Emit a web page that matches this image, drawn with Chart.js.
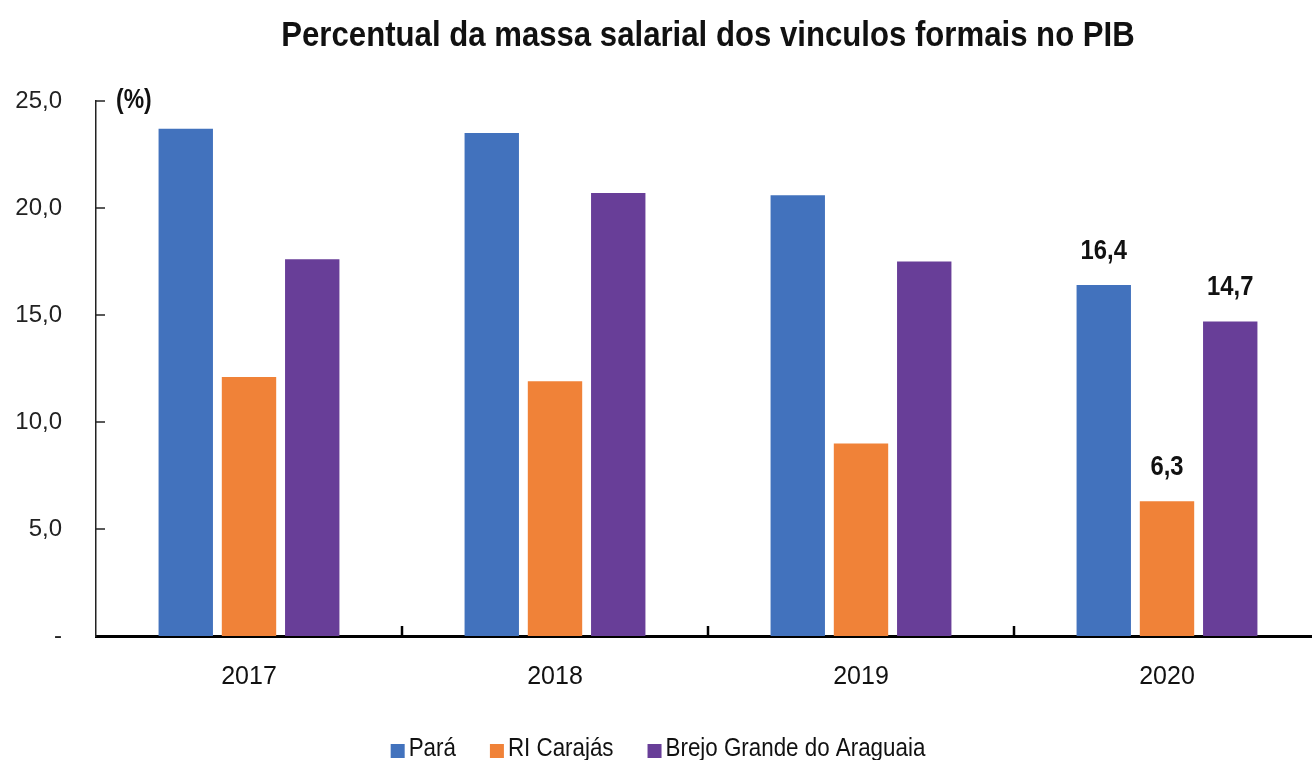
<!DOCTYPE html>
<html>
<head>
<meta charset="utf-8">
<script src="https://cdn.jsdelivr.net/npm/chart.js@4/dist/chart.umd.min.js"></script>
<style>
  html, body { margin: 0; padding: 0; background: #fff; overflow: hidden; }
  #wrap { width: 1330px; height: 760px; }
</style>
</head>
<body>
<div id="wrap"><canvas id="massaChart"></canvas></div>
<script>
const FONT = "'Liberation Sans', Arial, sans-serif";

const anos = ["2017", "2018", "2019", "2020"];
const para = [23.7, 23.5, 20.6, 16.4];
const carajas = [12.1, 11.9, 9.0, 6.3];
const brejo = [17.6, 20.7, 17.5, 14.7];
const yTicks = [0, 5, 10, 15, 20, 25];
const cores = ["#4272bd", "#f08238", "#683e98"];

const fmt = (v) => v.toFixed(1).replace(".", ",");

// the original uses a narrow typeface, so squeeze the text horizontally
const narrow = (ctx, txt, x, y, sx) => {
  ctx.save();
  ctx.translate(x, y);
  ctx.scale(sx, 1);
  ctx.fillText(txt, 0, 0);
  ctx.restore();
};

const extras = {
  id: "extras",
  afterDraw(chart) {
    const ctx = chart.ctx;
    const area = chart.chartArea;
    const x = chart.scales.x;
    const y = chart.scales.y;
    ctx.save();
    ctx.fillStyle = "#111";
    ctx.textBaseline = "middle";

    // title
    ctx.font = "bold 35px " + FONT;
    ctx.textAlign = "center";
    narrow(ctx, "Percentual da massa salarial dos vinculos formais no PIB", (area.left + area.right) / 2, 36, 0.89);

    ctx.font = "bold 27px " + FONT;
    ctx.textAlign = "left";
    narrow(ctx, "(%)", area.left + 20, y.getPixelForValue(25), 0.85);

    // ticks pointing into the plot
    ctx.strokeStyle = "#222";
    ctx.lineWidth = 1.5;
    yTicks.slice(1).forEach((v) => {
      const py = y.getPixelForValue(v);
      ctx.beginPath();
      ctx.moveTo(area.left, py);
      ctx.lineTo(area.left + 9, py);
      ctx.stroke();
    });
    ctx.lineWidth = 2.5;
    ctx.strokeStyle = "#000";
    const step = x.getPixelForValue(1) - x.getPixelForValue(0);
    for (let i = 1; i < anos.length; i++) {
      const px = x.getPixelForValue(i) - step / 2;
      ctx.beginPath();
      ctx.moveTo(px, area.bottom);
      ctx.lineTo(px, area.bottom - 10);
      ctx.stroke();
    }

    // value labels only for the last year
    ctx.font = "bold 28px " + FONT;
    ctx.textAlign = "center";
    const last = anos.length - 1;
    chart.data.datasets.forEach((ds, di) => {
      const bar = chart.getDatasetMeta(di).data[last];
      narrow(ctx, fmt(ds.data[last]), bar.x, bar.y - 34, 0.85);
    });

    // legend
    ctx.font = "26px " + FONT;
    ctx.textAlign = "left";
    const sx = 0.86;
    const box = 14, gapBox = 4, gapItem = 34;
    const items = chart.data.datasets.map((ds) => ({
      label: ds.label,
      color: ds.backgroundColor,
      w: ctx.measureText(ds.label).width * sx
    }));
    let total = items.reduce((s, it) => s + box + gapBox + it.w, 0) + gapItem * (items.length - 1);
    let lx = 658 - total / 2;
    const ly = 749;
    items.forEach((it) => {
      ctx.fillStyle = it.color;
      ctx.fillRect(lx, ly - box / 2 + 2, box, box);
      ctx.fillStyle = "#111";
      narrow(ctx, it.label, lx + box + gapBox, ly, sx);
      lx += box + gapBox + it.w + gapItem;
    });
    ctx.restore();
  }
};

const ctx = document.getElementById("massaChart").getContext("2d");
new Chart(ctx, {
  type: "bar",
  data: {
    labels: anos,
    datasets: [
      { label: "Pará", data: para, backgroundColor: cores[0] },
      { label: "RI Carajás", data: carajas, backgroundColor: cores[1] },
      { label: "Brejo Grande do Araguaia", data: brejo, backgroundColor: cores[2] }
    ]
  },
  options: {
    responsive: true,
    maintainAspectRatio: false,
    animation: false,
    layout: { padding: { top: 101, right: 10, left: 0, bottom: 50 } },
    datasets: {
      bar: { categoryPercentage: 0.62, barPercentage: 0.86 }
    },
    plugins: {
      title: { display: false },
      tooltip: { enabled: false },
      legend: { display: false }
    },
    scales: {
      x: {
        grid: { display: false },
        border: { display: true, color: "#000", width: 3 },
        ticks: { font: { family: FONT, size: 25 }, color: "#111", padding: 18 }
      },
      y: {
        min: 0,
        max: 25,
        afterFit(scale) { scale.width = 96; },
        afterBuildTicks(scale) { scale.ticks = yTicks.map((v) => ({ value: v })); },
        grid: { display: false },
        border: { display: true, color: "#222", width: 1.5 },
        ticks: {
          font: { family: FONT, size: 24 },
          color: "#222",
          padding: 26,
          callback: (v) => (v === 0 ? "-" : fmt(v))
        }
      }
    }
  },
  plugins: [extras]
});
</script>
</body>
</html>
